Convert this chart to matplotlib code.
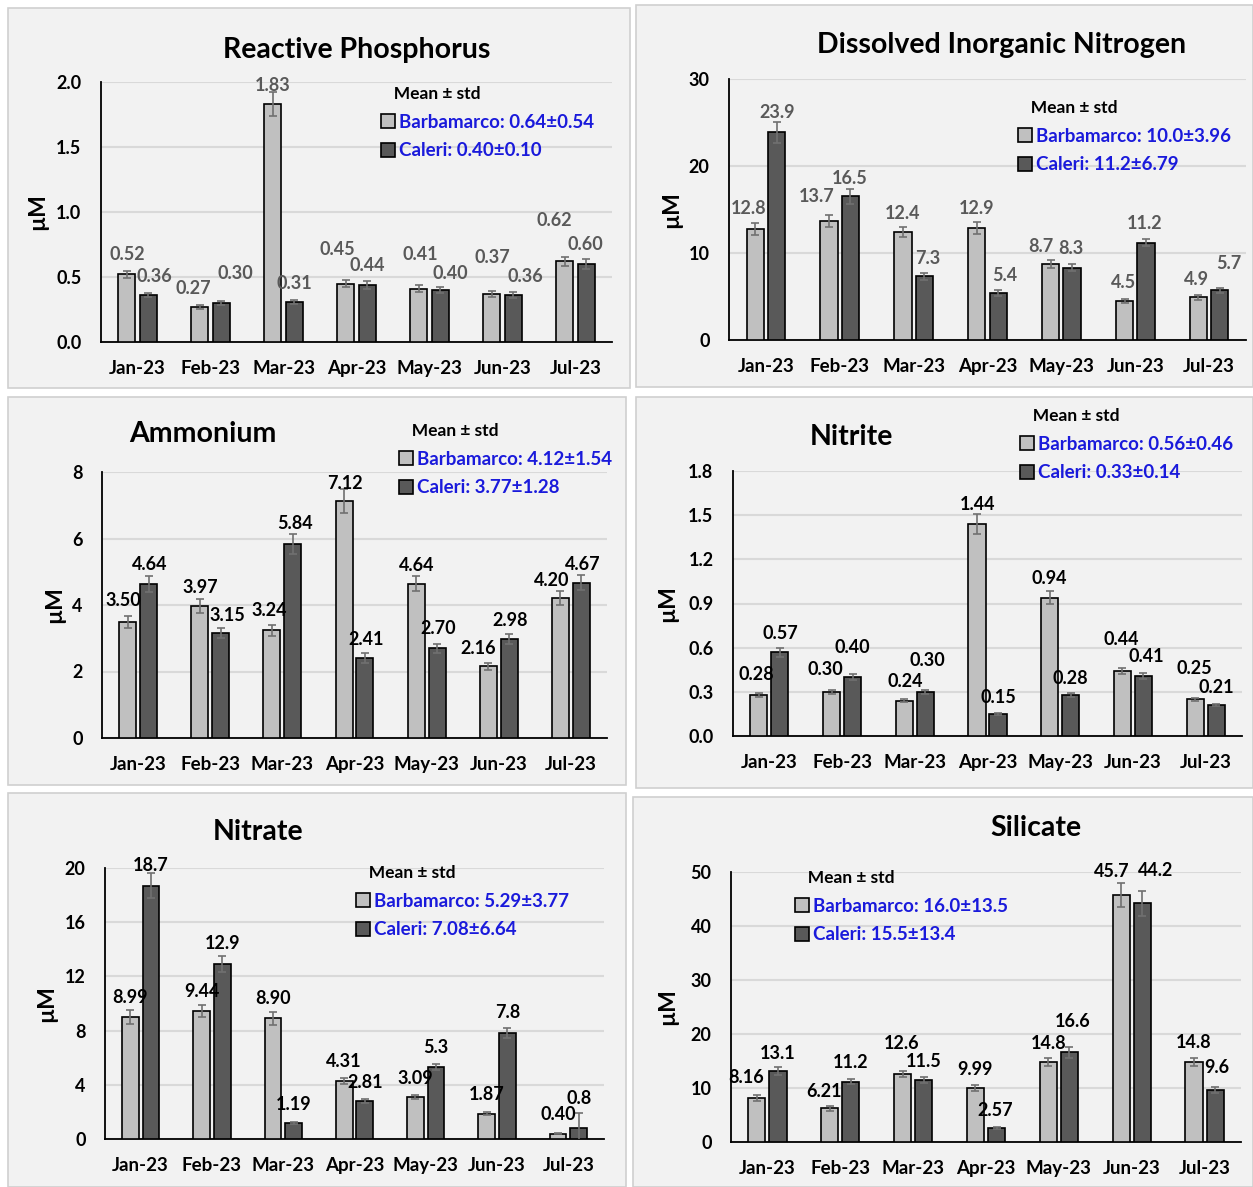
import numpy as np
import matplotlib
matplotlib.use("Agg")
import matplotlib.pyplot as plt
from matplotlib.patches import Rectangle, Patch

plt.rcParams['font.family'] = ['Lato', 'DejaVu Sans']
plt.rcParams['font.weight'] = 'bold'

W, H = 1253, 1187

months = ['Jan-23', 'Feb-23', 'Mar-23', 'Apr-23', 'May-23', 'Jun-23', 'Jul-23']

# values as printed on the bars
rp_barb = ['0.52', '0.27', '1.83', '0.45', '0.41', '0.37', '0.62']
rp_cal = ['0.36', '0.30', '0.31', '0.44', '0.40', '0.36', '0.60']
rp_barb_err = [0.03, 0.015, 0.09, 0.025, 0.025, 0.02, 0.035]
rp_cal_err = [0.015, 0.015, 0.015, 0.03, 0.02, 0.025, 0.04]

din_barb = ['12.8', '13.7', '12.4', '12.9', '8.7', '4.5', '4.9']
din_cal = ['23.9', '16.5', '7.3', '5.4', '8.3', '11.2', '5.7']
din_barb_err = [0.7, 0.7, 0.6, 0.7, 0.45, 0.25, 0.25]
din_cal_err = [1.2, 0.85, 0.4, 0.3, 0.4, 0.4, 0.3]

nh4_barb = ['3.50', '3.97', '3.24', '7.12', '4.64', '2.16', '4.20']
nh4_cal = ['4.64', '3.15', '5.84', '2.41', '2.70', '2.98', '4.67']
nh4_barb_err = [0.18, 0.2, 0.16, 0.36, 0.23, 0.11, 0.21]
nh4_cal_err = [0.24, 0.15, 0.3, 0.14, 0.14, 0.14, 0.23]

no2_barb = ['0.28', '0.30', '0.24', '1.44', '0.94', '0.44', '0.25']
no2_cal = ['0.57', '0.40', '0.30', '0.15', '0.28', '0.41', '0.21']
no2_barb_err = [0.012, 0.015, 0.012, 0.07, 0.045, 0.02, 0.01]
no2_cal_err = [0.03, 0.02, 0.012, 0.005, 0.012, 0.02, 0.008]

no3_barb = ['8.99', '9.44', '8.90', '4.31', '3.09', '1.87', '0.40']
no3_cal = ['18.7', '12.9', '1.19', '2.81', '5.3', '7.8', '0.8']
no3_barb_err = [0.5, 0.47, 0.45, 0.22, 0.15, 0.09, 0.02]
no3_cal_err = [0.95, 0.6, 0.05, 0.14, 0.2, 0.38, 1.1]

si_barb = ['8.16', '6.21', '12.6', '9.99', '14.8', '45.7', '14.8']
si_cal = ['13.1', '11.2', '11.5', '2.57', '16.6', '44.2', '9.6']
si_barb_err = [0.5, 0.4, 0.6, 0.5, 0.8, 2.2, 0.8]
si_cal_err = [0.7, 0.5, 0.6, 0.15, 1.0, 2.3, 0.5]

# label nudges (pixels: dx, dy above the error-bar top), as the labels sit in the original
rp_off_b = [(0, 16), (-7, 16), (0, 7), (-9, 31), (1, 31), (0, 34), (-11, 36)]
rp_off_c = [(6, 17), (14, 28), (0, 16), (0, 15), (10, 14), (12, 15), (-1, 14)]
din_off_b = [(-7, 14), (-12, 18), (0, 13), (0, 13), (-10, 14), (-1, 16), (-2, 16)]
din_off_c = [(0, 9), (-1, 11), (3, 15), (7, 15), (-1, 16), (-1, 16), (9, 24)]
nh4_off_b = [(-4, 15), (1, 12), (-3, 14), (1, 6), (1, 11), (-10, 14), (-9, 11)]
nh4_off_c = [(1, 11), (7, 13), (2, 10), (1, 14), (1, 15), (1, 14), (1, 11)]
no2_off_b = [(-3, 19), (-6, 20), (1, 17), (1, 9), (0, 12), (-1, 29), (-1, 29)]
no2_off_c = [(0, 14), (0, 27), (2, 30), (0, 16), (0, 15), (3, 16), (0, 16)]
no3_off_b = [(0, 13), (0, 13), (0, 14), (0, 16), (0, 17), (0, 18), (0, 19)]
no3_off_c = [(0, 7), (0, 13), (0, 18), (0, 17), (0, 17), (0, 16), (0, 15)]
si_off_b = [(-11, 18), (-6, 15), (-1, 27), (0, 16), (0, 14), (-9, 12), (0, 15)]
si_off_c = [(0, 14), (0, 16), (0, 15), (-1, 17), (3, 25), (13, 20), (2, 20)]

LIGHT = '#c0c0c0'
DARK = '#595959'
BLUE = '#1a1adb'

fig = plt.figure(figsize=(W / 100, H / 100), dpi=100)
fig.patch.set_facecolor('white')


def box(x0, y0, x1, y1):
    fig.patches.append(Rectangle((x0 / W, 1 - y1 / H), (x1 - x0) / W, (y1 - y0) / H,
                                 transform=fig.transFigure, facecolor='#f2f2f2',
                                 edgecolor='#d0d0d0', linewidth=1.2, zorder=-5))


def panel(frame, axpx, title, title_xy, barb, cal, barb_err, cal_err, off_b, off_c,
          ymax, ystep, yfmt, means, leg_xy, ylab_x, val_color):
    box(*frame)
    l, t, r, b = axpx
    ax = fig.add_axes([l / W, 1 - b / H, (r - l) / W, (b - t) / H])
    ax.set_facecolor('none')
    x = np.arange(len(months))
    vb = np.array([float(v) for v in barb])
    vc = np.array([float(v) for v in cal])
    w = 0.235
    ax.bar(x - 0.145, vb, w, color=LIGHT, edgecolor='black', linewidth=1.2, zorder=3)
    ax.bar(x + 0.145, vc, w, color=DARK, edgecolor='black', linewidth=1.2, zorder=3)
    ax.errorbar(x - 0.145, vb, yerr=barb_err, fmt='none', ecolor='#707070',
                elinewidth=1.2, capsize=3, capthick=1.2, zorder=4)
    ax.errorbar(x + 0.145, vc, yerr=cal_err, fmt='none', ecolor='#707070',
                elinewidth=1.2, capsize=3, capthick=1.2, zorder=4)
    for xi, v, e, s, o in zip(x - 0.145, vb, barb_err, barb, off_b):
        ax.annotate(s, (xi, v + e), xytext=o, textcoords='offset pixels',
                    ha='center', va='center', fontsize=13, color=val_color, zorder=5)
    for xi, v, e, s, o in zip(x + 0.145, vc, cal_err, cal, off_c):
        ax.annotate(s, (xi, v + e), xytext=o, textcoords='offset pixels',
                    ha='center', va='center', fontsize=13, color=val_color, zorder=5)

    ax.set_xlim(-0.5, len(months) - 0.5)
    ax.set_ylim(0, ymax)
    ticks = np.arange(0, ymax + ystep / 2, ystep)
    ax.set_yticks(ticks)
    ax.set_yticklabels([yfmt.format(v) for v in ticks])
    ax.set_xticks(x)
    ax.set_xticklabels(months)
    ax.tick_params(axis='both', length=0, labelsize=13)
    ax.tick_params(axis='x', labelsize=13.5, pad=13)
    ax.tick_params(axis='y', pad=14)
    ax.grid(axis='y', color='#d9d9d9', linewidth=1.5, zorder=0)
    ax.set_axisbelow(True)
    for sp in ['top', 'right']:
        ax.spines[sp].set_visible(False)
    ax.spines['left'].set_linewidth(1.3)
    ax.spines['bottom'].set_linewidth(1.3)

    fig.text(title_xy[0] / W, 1 - title_xy[1] / H, title, ha='center', va='center',
             fontsize=20.5, fontweight='bold')
    fig.text(ylab_x / W, 1 - (t + b) / 2 / H, 'µM', rotation=90, ha='center',
             va='center', fontsize=16.5, fontweight='bold')

    handles = [Patch(facecolor=LIGHT, edgecolor='black', linewidth=1.2),
               Patch(facecolor=DARK, edgecolor='black', linewidth=1.2)]
    labels = ['Barbamarco: ' + means[0], 'Caleri: ' + means[1]]
    leg = ax.legend(handles, labels, title='   Mean ± std', loc='upper left',
                    bbox_to_anchor=(leg_xy[0] / W, 1 - leg_xy[1] / H),
                    bbox_transform=fig.transFigure, frameon=False, alignment='left',
                    fontsize=13.5, title_fontsize=12.5, handlelength=0.75,
                    handleheight=0.75, handletextpad=0.2, labelspacing=0.62,
                    borderpad=0, borderaxespad=0)
    leg.get_title().set_fontweight('bold')
    for txt in leg.get_texts():
        txt.set_color(BLUE)
    return ax


panel((8, 8, 630, 388), (101, 82, 612, 342), 'Reactive Phosphorus', (357, 50),
      rp_barb, rp_cal, rp_barb_err, rp_cal_err, rp_off_b, rp_off_c, 2.0, 0.5, '{:.1f}',
      ('0.64±0.54', '0.40±0.10'), (381, 86), 38, '#595959')
panel((636, 5, 1253, 387), (729, 79, 1246, 340), 'Dissolved Inorganic Nitrogen', (1002, 45),
      din_barb, din_cal, din_barb_err, din_cal_err, din_off_b, din_off_c, 30, 10, '{:.0f}',
      ('10.0±3.96', '11.2±6.79'), (1018, 100), 672, '#595959')
panel((8, 397, 626, 785), (102, 472, 607, 738), 'Ammonium', (203, 434),
      nh4_barb, nh4_cal, nh4_barb_err, nh4_cal_err, nh4_off_b, nh4_off_c, 8, 2, '{:.0f}',
      ('4.12±1.54', '3.77±1.28'), (399, 423), 55, 'black')
panel((636, 397, 1253, 788), (733, 471, 1242, 736), 'Nitrite', (851, 437),
      no2_barb, no2_cal, no2_barb_err, no2_cal_err, no2_off_b, no2_off_c, 1.8, 0.3, '{:.1f}',
      ('0.56±0.46', '0.33±0.14'), (1020, 408), 668, 'black')
panel((8, 793, 626, 1187), (105, 868, 604, 1139), 'Nitrate', (258, 832),
      no3_barb, no3_cal, no3_barb_err, no3_cal_err, no3_off_b, no3_off_c, 20, 4, '{:.0f}',
      ('5.29±3.77', '7.08±6.64'), (356, 865), 47, 'black')
panel((633, 797, 1253, 1187), (731, 872, 1241, 1142), 'Silicate', (1036, 828),
      si_barb, si_cal, si_barb_err, si_cal_err, si_off_b, si_off_c, 50, 10, '{:.0f}',
      ('16.0±13.5', '15.5±13.4'), (795, 870), 668, 'black')

fig.savefig('out.png', dpi=100)
